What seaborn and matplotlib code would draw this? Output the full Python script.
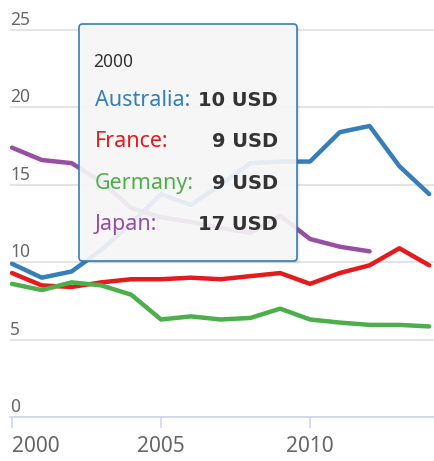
import numpy as np
import pandas as pd
import matplotlib
matplotlib.use('Agg')
import matplotlib.pyplot as plt
import matplotlib.transforms as mtransforms
from matplotlib.patches import FancyBboxPatch
import seaborn as sns

sns.set_style('white')
plt.rcParams['font.family'] = ['Noto Sans', 'DejaVu Sans']

# values (USD)
years = list(range(2000, 2015))
countries = ['Australia', 'France', 'Germany', 'Japan']
australia = [9.9, 9.0, 9.4, 10.8, 12.5, 14.4, 13.7, 15.0, 16.4, 16.5, 16.5, 18.4, 18.8, 16.2, 14.4]
france = [9.3, 8.5, 8.4, 8.7, 8.9, 8.9, 9.0, 8.9, 9.1, 9.3, 8.6, 9.3, 9.8, 10.9, 9.8]
germany = [8.6, 8.2, 8.7, 8.5, 7.9, 6.3, 6.5, 6.3, 6.4, 7.0, 6.3, 6.1, 5.95, 5.95, 5.85]
japan = [17.4, 16.6, 16.4, 15.2, 13.5, 12.9, 12.6, 12.2, 11.9, 13.0, 11.5, 11.0, 10.7]
y_ticks = [0, 5, 10, 15, 20, 25]
x_ticks = [2000, 2005, 2010]
tooltip_year = 2000

colors = {'Australia': '#377eb8', 'France': '#e41a1c',
          'Germany': '#4daf4a', 'Japan': '#984ea3'}

series = [australia, france, germany, japan]
df = pd.concat([pd.DataFrame({'year': years[:len(v)], 'value': v, 'country': c})
                for c, v in zip(countries, series)], ignore_index=True)

W, H = 434, 461
fig = plt.figure(figsize=(W / 100, H / 100), dpi=100)
ax = fig.add_axes([10 / W, 44 / H, 424 / W, 397 / H])

sns.lineplot(data=df, x='year', y='value', hue='country', palette=colors,
             linewidth=3.2, legend=False, ax=ax, zorder=3,
             solid_joinstyle='round', solid_capstyle='round')

ax.set_xlim(2000 - 2 / 29.8, 2000 + 422 / 29.8)
ax.set_ylim(0, 397 / 15.48)
ax.set_xlabel('')
ax.set_ylabel('')

for s in ['left', 'right', 'top']:
    ax.spines[s].set_visible(False)
ax.spines['bottom'].set_color('#ccd6eb')
ax.spines['bottom'].set_linewidth(1.2)

ax.set_yticks(y_ticks)
ax.yaxis.grid(True, color='#dcdcdc', linewidth=1.1)
ax.tick_params(axis='y', length=0, labelleft=False)

ax.set_xticks(x_ticks)
ax.set_xticklabels([str(x) for x in x_ticks])
ax.tick_params(axis='x', direction='out', length=8, width=1.2, color='#ccd6eb',
               labelsize=15, labelcolor='#666666', pad=6, bottom=True)
ax.get_xticklabels()[0].set_ha('left')

# y labels sit inside the plot just above the grid lines
ytrans = mtransforms.blended_transform_factory(ax.transAxes, ax.transData)
ytrans = mtransforms.offset_copy(ytrans, fig=fig, x=0, y=5, units='dots')
for v in y_ticks:
    ax.text(0, v, str(v), transform=ytrans, ha='left', va='baseline',
            fontsize=12.5, color='#666666')

# tooltip (pixel positions in the figure, y measured from the top)
def px(x, y):
    return x / W, (H - y) / H

x0, y0, x1, y1 = 79, 24, 297, 261
for k, a in [(3, 0.03), (2, 0.05), (1, 0.07)]:
    fig.add_artist(FancyBboxPatch(px(x0 + k, y1 + k), (x1 - x0) / W, (y1 - y0) / H,
                                  boxstyle='round,pad=0,rounding_size=0.008',
                                  transform=fig.transFigure, facecolor='black',
                                  edgecolor='none', alpha=a))
fig.add_artist(FancyBboxPatch(px(x0, y1), (x1 - x0) / W, (y1 - y0) / H,
                              boxstyle='round,pad=0,rounding_size=0.008',
                              transform=fig.transFigure,
                              facecolor=(0.98, 0.98, 0.98, 0.9),
                              edgecolor=colors['Australia'], linewidth=1.2))

fig.text(*px(93, 67), str(tooltip_year), fontsize=12.5, color='#333333',
         ha='left', va='baseline')
idx = years.index(tooltip_year)
for i, (c, v) in enumerate(zip(countries, series)):
    yb = 106 + i * 41.3
    fig.text(*px(95, yb), c + ':', fontsize=15.5, color=colors[c],
             ha='left', va='baseline')
    fig.text(*px(278, yb), '{:.0f} USD'.format(v[idx]), fontsize=14,
             family='DejaVu Sans', fontweight='bold', color='#333333',
             ha='right', va='baseline')

fig.savefig('out.png', dpi=100)
